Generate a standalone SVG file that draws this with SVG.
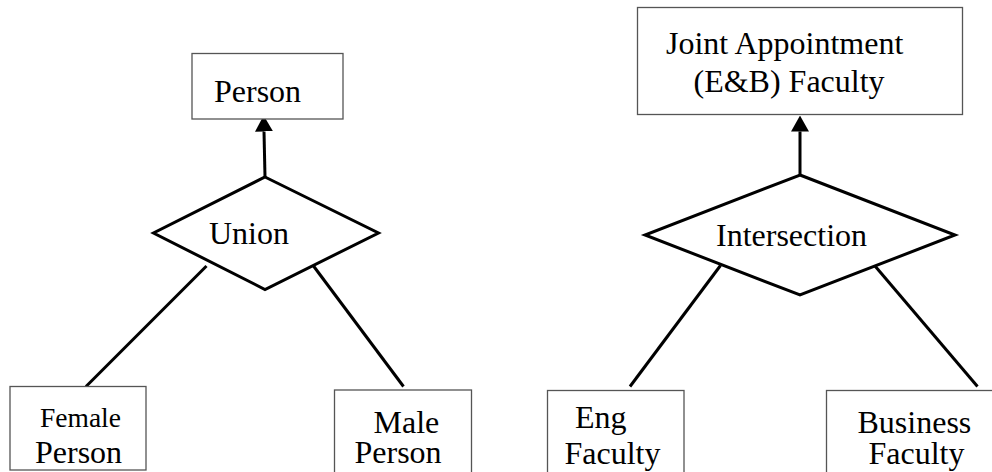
<svg xmlns="http://www.w3.org/2000/svg" width="992" height="472" viewBox="0 0 992 472">
  <defs>
    <marker id="arrow" viewBox="0 0 16 18" refX="0" refY="9" markerWidth="16" markerHeight="18" markerUnits="userSpaceOnUse" orient="auto">
      <path d="M0,0 L16,9 L0,18 z" fill="#000"/>
    </marker>
  </defs>
  <style>
    .box { fill: #fff; stroke: #555; stroke-width: 1.3; }
    .op { fill: #fff; stroke: #000; stroke-width: 3; stroke-linejoin: miter; }
    .edge { fill: none; stroke: #000; stroke-width: 3; }
    .lbl { font-family: 'Liberation Serif', 'DejaVu Serif', serif; font-size: 32px; fill: #000; }
    .sm { font-size: 27.5px; }
  </style>
  <rect width="992" height="472" fill="#fff"/>

  <!-- connectors -->
  <g id="connectors">
    <line class="edge" x1="265" y1="177" x2="264" y2="131.5" marker-end="url(#arrow)"/>
    <line class="edge" x1="206.5" y1="266" x2="86" y2="386.5"/>
    <line class="edge" x1="313.5" y1="266" x2="403.5" y2="386.5"/>
    <line class="edge" x1="800" y1="175" x2="800" y2="131.5" marker-end="url(#arrow)"/>
    <line class="edge" x1="720.5" y1="265.5" x2="630" y2="386.5"/>
    <line class="edge" x1="875" y1="266" x2="977.5" y2="386.5"/>
  </g>

  <!-- Union side -->
  <g id="person">
    <rect class="box" x="192" y="53.5" width="151" height="65.5"/>
    <text class="lbl" x="214" y="101.5">Person</text>
  </g>
  <g id="union">
    <polygon class="op" points="265,177 378.5,233 265,289.5 153.5,233"/>
    <text class="lbl" x="209" y="244">Union</text>
  </g>
  <g id="female-person">
    <rect class="box" x="10" y="386.5" width="136" height="83.5"/>
    <text class="lbl sm" x="40" y="426.5">Female</text>
    <text class="lbl" x="35" y="462.5">Person</text>
  </g>
  <g id="male-person">
    <rect class="box" x="334.5" y="390" width="137" height="90"/>
    <text class="lbl" x="373.5" y="432.5">Male</text>
    <text class="lbl" x="354.5" y="462.5">Person</text>
  </g>

  <!-- Intersection side -->
  <g id="joint-faculty">
    <rect class="box" x="637.5" y="7.5" width="325" height="107"/>
    <text class="lbl" x="666" y="53.5">Joint Appointment</text>
    <text class="lbl" x="693.5" y="91.5">(E&amp;B) Faculty</text>
  </g>
  <g id="intersection">
    <polygon class="op" points="800,175 955,235 800,295 645,235"/>
    <text class="lbl" x="716" y="246">Intersection</text>
  </g>
  <g id="eng-faculty">
    <rect class="box" x="547.5" y="390.5" width="136.5" height="90"/>
    <text class="lbl" x="575" y="427.5">Eng</text>
    <text class="lbl" x="564.5" y="463.5">Faculty</text>
  </g>
  <g id="business-faculty">
    <rect class="box" x="826.5" y="390.5" width="180" height="90"/>
    <text class="lbl" x="857.5" y="432.5">Business</text>
    <text class="lbl" x="868.5" y="463.5">Faculty</text>
  </g>
</svg>
